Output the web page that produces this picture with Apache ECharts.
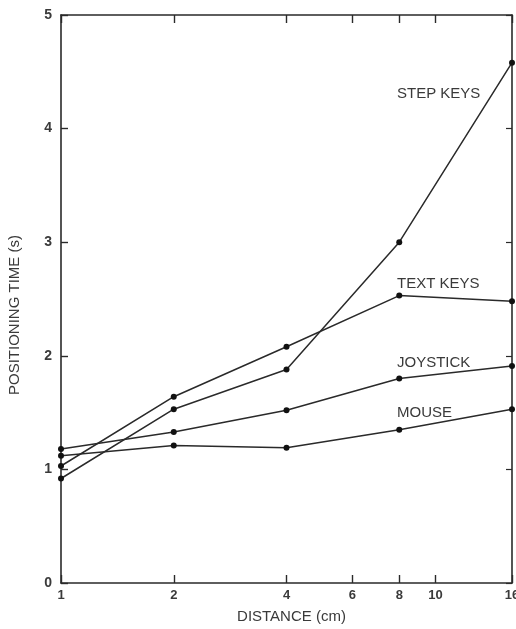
<!DOCTYPE html>
<html>
<head>
<meta charset="utf-8">
<script src="https://cdn.jsdelivr.net/npm/echarts@6/dist/echarts.min.js"></script>
<style>html,body{margin:0;padding:0;background:#fff}#c{width:516px;height:629px}</style>
</head>
<body>
<div id="c"></div>
<script>
const distances = [1, 2, 4, 8, 16];
const stepKeys = [0.92, 1.53, 1.88, 3.0, 4.58];
const textKeys = [1.03, 1.64, 2.08, 2.53, 2.48];
const joystick = [1.18, 1.33, 1.52, 1.80, 1.91];
const mouse = [1.12, 1.21, 1.19, 1.35, 1.53];
const xTickValues = [1, 2, 4, 6, 8, 10, 16];
const seriesNames = ['STEP KEYS', 'TEXT KEYS', 'JOYSTICK', 'MOUSE'];

const ink = '#2a2a2a';
const txt = '#3a3a3a';
const font = 'Liberation Sans, Arial, sans-serif';

function pairs(ys) { return distances.map((d, i) => [d, ys[i]]); }

const chart = echarts.init(document.getElementById('c'));
const xAxisBase = {
  type: 'log', logBase: 2, min: 1, max: 16,
  splitLine: { show: false },
  minorTick: { show: false }
};
chart.setOption({
  animation: false,
  grid: { left: 61, right: 4, top: 15, bottom: 46, outerBoundsMode: 'none', containLabel: false },
  xAxis: [
    Object.assign({}, xAxisBase, {
      position: 'bottom',
      name: 'DISTANCE (cm)', nameLocation: 'middle', nameGap: 26,
      nameTextStyle: { color: txt, fontSize: 15, fontFamily: font, padding: [0, 0, 0, 10] },
      axisLine: { show: true, onZero: false, lineStyle: { color: ink, width: 1.6 } },
      axisTick: { show: true, inside: true, length: 8, lineStyle: { color: ink, width: 1.4 }, customValues: xTickValues },
      axisLabel: { color: txt, fontSize: 13, fontFamily: font, fontWeight: 'bold', margin: 6, customValues: xTickValues, formatter: v => String(Math.round(v)) }
    }),
    Object.assign({}, xAxisBase, {
      position: 'top',
      axisLine: { show: true, onZero: false, lineStyle: { color: ink, width: 1.6 } },
      axisTick: { show: true, inside: true, length: 8, lineStyle: { color: ink, width: 1.4 }, customValues: xTickValues },
      axisLabel: { show: false }
    })
  ],
  yAxis: [
    {
      type: 'value', min: 0, max: 5, interval: 1, position: 'left',
      name: 'POSITIONING TIME (s)', nameLocation: 'middle', nameGap: 39, nameRotate: 90,
      nameTextStyle: { color: txt, fontSize: 15, fontFamily: font, padding: [0, 32, 0, 0] },
      axisLine: { show: true, onZero: false, lineStyle: { color: ink, width: 1.6 } },
      axisTick: { show: true, inside: true, length: 7, lineStyle: { color: ink, width: 1.4 } },
      axisLabel: { color: txt, fontSize: 14, fontFamily: font, fontWeight: 'bold', margin: 9 },
      splitLine: { show: false }
    },
    {
      type: 'value', min: 0, max: 5, interval: 1, position: 'right',
      axisLine: { show: true, onZero: false, lineStyle: { color: ink, width: 1.6 } },
      axisTick: { show: true, inside: true, length: 6, lineStyle: { color: ink, width: 1.2 } },
      axisLabel: { show: false },
      splitLine: { show: false }
    }
  ],
  series: [stepKeys, textKeys, joystick, mouse].map((ys, i) => ({
    name: seriesNames[i],
    type: 'line',
    data: pairs(ys),
    symbol: 'circle', symbolSize: 6,
    itemStyle: { color: '#111' },
    lineStyle: { color: ink, width: 1.5 },
    z: 3
  })),
  graphic: [
    { type: 'text', left: 397, top: 86, style: { text: 'STEP KEYS', fill: txt, font: '15px ' + font } },
    { type: 'text', left: 397, top: 276, style: { text: 'TEXT KEYS', fill: txt, font: '15px ' + font } },
    { type: 'text', left: 397, top: 355, style: { text: 'JOYSTICK', fill: txt, font: '15px ' + font } },
    { type: 'text', left: 397, top: 405, style: { text: 'MOUSE', fill: txt, font: '15px ' + font } }
  ]
});
</script>
</body>
</html>
